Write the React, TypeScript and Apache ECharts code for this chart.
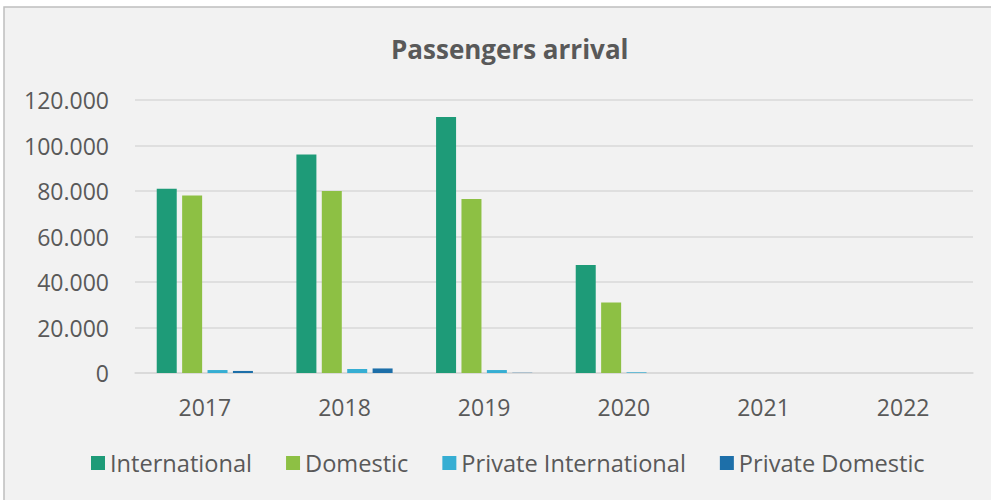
import React, { useEffect, useRef } from "react";
import * as echarts from "echarts";

const years = ["2017", "2018", "2019", "2020", "2021", "2022"];
const international = [81000, 96000, 112500, 47500, 0, 0];
const domestic = [78000, 80000, 76500, 31000, 0, 0];
const privateInternational = [1300, 1750, 1300, 300, 0, 0];
const privateDomestic = [900, 2000, 100, 0, 0, 0];

const seriesNames = ["International", "Domestic", "Private International", "Private Domestic"];
const seriesColors = ["#1e9b78", "#8dc044", "#36aed3", "#1d6fa9"];
const seriesData = [international, domestic, privateInternational, privateDomestic];

const FONT = "Open Sans";
const TEXT = "#595959";

function fmt(v: number): string {
  return String(v).replace(/\B(?=(\d{3})+(?!\d))/g, ".");
}

export default function App() {
  const ref = useRef<HTMLDivElement>(null);
  useEffect(() => {
    document.body.style.margin = "0";
    if (!ref.current) return;
    const chart = echarts.init(ref.current, null, { renderer: "svg" });
    chart.setOption({
      animation: false,
      backgroundColor: "#ffffff",
      graphic: [
        {
          type: "rect",
          z: -10,
          silent: true,
          shape: { x: 4, y: 7, width: 995, height: 500 },
          style: { fill: "#f2f2f2", stroke: "#bfbfbf", lineWidth: 1.5 },
        },
      ],
      title: {
        text: "Passengers arrival",
        left: 386,
        top: 31,
        textStyle: { fontFamily: FONT, fontSize: 26, fontWeight: "bold", color: TEXT },
      },
      legend: {
        left: 91,
        top: 451,
        padding: 0,
        itemWidth: 14,
        itemHeight: 14,
        itemGap: 34,
        icon: "rect",
        textStyle: { fontFamily: FONT, fontSize: 23.6, color: TEXT },
        data: seriesNames,
      },
      grid: { left: 135, right: 18, top: 100, bottom: 127, containLabel: false },
      xAxis: {
        type: "category",
        data: years,
        axisLine: { lineStyle: { color: "#d9d9d9", width: 1.5 } },
        axisTick: { show: false },
        axisLabel: { fontFamily: FONT, fontSize: 23, color: TEXT, margin: 22 },
      },
      yAxis: {
        type: "value",
        min: 0,
        max: 120000,
        interval: 20000,
        axisLine: { show: false },
        axisTick: { show: false },
        splitLine: { lineStyle: { color: "#d9d9d9", width: 1.5 } },
        axisLabel: {
          fontFamily: FONT,
          fontSize: 23,
          color: TEXT,
          margin: 26,
          formatter: (v: number) => fmt(v),
        },
      },
      series: seriesNames.map((name, i) => ({
        name,
        type: "bar",
        data: seriesData[i],
        barWidth: 20,
        barGap: "27%",
        itemStyle: { color: seriesColors[i] },
      })),
    });
    return () => chart.dispose();
  }, []);
  return <div ref={ref} style={{ width: 991, height: 500 }} />;
}
